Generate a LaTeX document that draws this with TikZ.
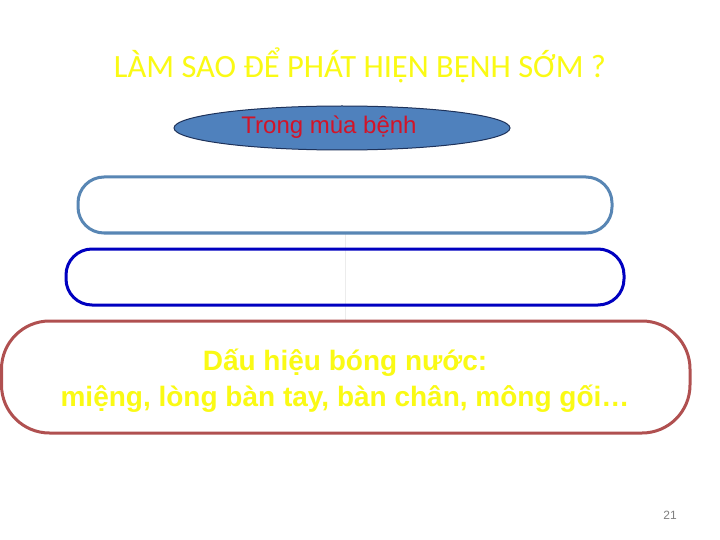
\documentclass[tikz,border=0pt]{standalone}
\usepackage{fontspec}
\setmainfont{Liberation Sans}
\newfontfamily\calib{Carlito}
\usetikzlibrary{shapes.geometric}
\definecolor{ttlyellow}{RGB}{250,250,20}
\definecolor{ellfill}{RGB}{79,129,189}
\definecolor{ellline}{RGB}{30,50,90}
\definecolor{boxone}{RGB}{88,134,180}
\definecolor{boxtwo}{RGB}{0,0,192}
\definecolor{boxthree}{RGB}{176,80,80}
\definecolor{txtred}{RGB}{210,20,40}
\begin{document}
\begin{tikzpicture}[x=1pt,y=-1pt,
  pill/.style={draw, line width=3pt, rounded corners=#1},
]
\useasboundingbox (0,0) rectangle (720,540);
\fill[white] (0,0) rectangle (720,540);
\node (title) at (360,65) {\calib\fontsize{32.5}{38}\selectfont\color{ttlyellow}LÀM SAO ĐỂ PHÁT HIỆN BỆNH SỚM ?};
\draw[gray!15, line width=0.8pt] (345,233) -- (345,320);
\draw[pill=26pt, boxone] (78,177) rectangle (612,233);
\draw[pill=26pt, boxtwo] (66,249) rectangle (624,305);
\draw[pill=48pt, boxthree] (1.5,321) rectangle (690,433);
\node[ellipse, draw=ellline, fill=ellfill, line width=1pt, minimum width=336pt, minimum height=44pt, inner sep=0pt] (season) at (342,128) {};
\node (seasontxt) at (329,127) {\fontsize{24}{28}\selectfont\color{txtred}Trong mùa bệnh};
\node[align=center, font=\bfseries\fontsize{28}{36}\selectfont, text=ttlyellow] (sign) at (345,381) {Dấu hiệu bóng nước:\\miệng, lòng bàn tay, bàn chân, mông gối…};
\node (page) at (670,515) {\fontsize{12}{14}\selectfont\color{gray}21};
\end{tikzpicture}
\end{document}
